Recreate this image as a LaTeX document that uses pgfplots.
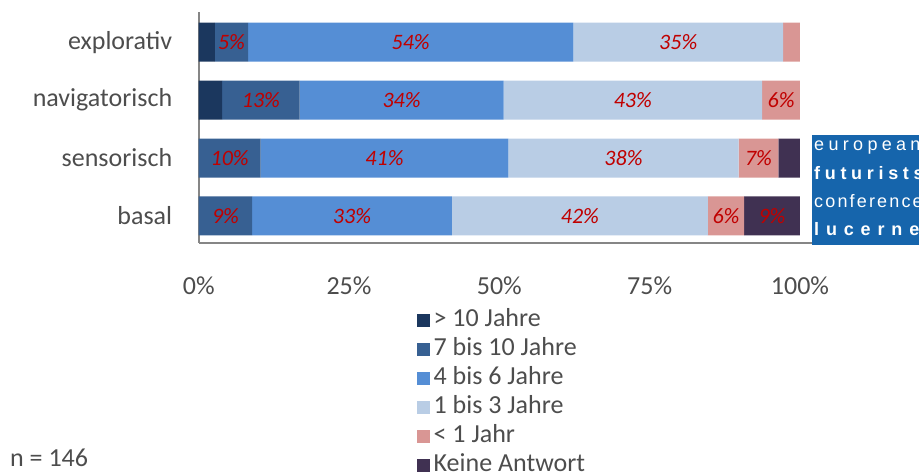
\documentclass[border=0pt]{standalone}
\usepackage{fontspec}
\setmainfont{Carlito}
\newfontfamily\logofont{Liberation Sans}
\usepackage{pgfplots}
\pgfplotsset{compat=1.18}

\definecolor{c1}{RGB}{27,55,94}
\definecolor{c2}{RGB}{55,96,146}
\definecolor{c3}{RGB}{85,142,213}
\definecolor{c4}{RGB}{185,205,229}
\definecolor{c5}{RGB}{217,150,148}
\definecolor{c6}{RGB}{64,49,82}
\definecolor{lblred}{RGB}{192,0,0}
\definecolor{txtgray}{RGB}{77,77,77}
\definecolor{axisgray}{RGB}{134,134,134}
\definecolor{logoblue}{RGB}{22,101,172}

\tikzset{lbl/.style={font=\fontsize{22bp}{26bp}\selectfont\itshape, text=lblred, inner sep=0pt}}
\newcommand\logo[1]{\logofont\fontsize{18bp}{20bp}\selectfont#1}

\begin{document}
\begin{tikzpicture}[x=1bp,y=1bp]
\useasboundingbox (0,0) rectangle (919,475);
\begin{axis}[
  at={(198.7bp,232bp)}, anchor=south west,
  scale only axis, width=613.3bp, height=231bp,
  xbar stacked, bar width=39bp,
  xmin=0, xmax=102, ymin=-0.466, ymax=3.52,
  axis x line*=bottom, axis y line*=left,
  axis line style={draw=axisgray, line width=1.8bp},
  major tick length=0pt,
  xtick={0,25,50,75,100},
  xticklabels={0\%,25\%,50\%,75\%,100\%},
  ytick={0,1,2,3},
  yticklabels={basal,sensorisch,navigatorisch,explorativ},
  tick label style={font=\fontsize{26bp}{30bp}\selectfont, text=txtgray},
  xticklabel style={yshift=-30bp},
  yticklabel style={xshift=-23bp},
  /pgf/number format/assume math mode=true,
  legend style={at={(0.351,-0.264)}, anchor=north west, draw=none, fill=none,
    font=\fontsize{26bp}{30bp}\selectfont, text=txtgray,
    row sep=0pt, nodes={inner ysep=0pt, inner xsep=3.5bp, text height=20bp, text depth=9bp}},
  legend cell align=left,
  legend image code/.code={\fill[#1] (0bp,-6.5bp) rectangle (13bp,6.5bp);},
]
\addplot[fill=c1, draw=none] coordinates {(2.7,3) (3.9,2) (0,1) (0,0)};
\addlegendentry{> 10 Jahre}
\addplot[fill=c2, draw=none] coordinates {(5.5,3) (12.9,2) (10.3,1) (8.9,0)};
\addlegendentry{7 bis 10 Jahre}
\addplot[fill=c3, draw=none] coordinates {(54.1,3) (33.9,2) (41.2,1) (33.2,0)};
\addlegendentry{4 bis 6 Jahre}
\addplot[fill=c4, draw=none] coordinates {(34.9,3) (43.0,2) (38.3,1) (42.6,0)};
\addlegendentry{1 bis 3 Jahre}
\addplot[fill=c5, draw=none] coordinates {(2.8,3) (6.3,2) (6.6,1) (6.0,0)};
\addlegendentry{< 1 Jahr}
\addplot[fill=c6, draw=none] coordinates {(0,3) (0,2) (3.6,1) (9.3,0)};
\addlegendentry{Keine Antwort}
\end{axis}

% segment labels (centres of the segments, 0% at x=198.7, 1% = 6.013bp)
\node[lbl] at (231.5,432.9) {5\%};
\node[lbl] at (410.7,432.9) {54\%};
\node[lbl] at (678.2,432.9) {35\%};
\node[lbl] at (260.9,375.0) {13\%};
\node[lbl] at (401.6,375.0) {34\%};
\node[lbl] at (632.8,375.0) {43\%};
\node[lbl] at (781.1,375.0) {6\%};
\node[lbl] at (229.7,317.0) {10\%};
\node[lbl] at (384.5,317.0) {41\%};
\node[lbl] at (623.5,317.0) {38\%};
\node[lbl] at (758.5,317.0) {7\%};
\node[lbl] at (225.5,259.0) {9\%};
\node[lbl] at (352.0,259.0) {33\%};
\node[lbl] at (579.9,259.0) {42\%};
\node[lbl] at (726.0,259.0) {6\%};
\node[lbl] at (772.0,259.0) {9\%};

% logo
\fill[logoblue] (812,230) rectangle (930,340);
\node[anchor=base west, inner sep=0pt, text=white] at (814,324) {\logo{\addfontfeature{LetterSpace=24}european}};
\node[anchor=base west, inner sep=0pt, text=white] at (814,295) {\logo{\bfseries\addfontfeature{LetterSpace=26}futurists}};
\node[anchor=base west, inner sep=0pt, text=white] at (814,267) {\logo{\addfontfeature{LetterSpace=12}conference}};
\node[anchor=base west, inner sep=0pt, text=white] at (814,239) {\logo{\bfseries\addfontfeature{LetterSpace=38}lucerne}};

\node[anchor=base west, inner sep=0pt, text=txtgray, font=\fontsize{26bp}{30bp}\selectfont] at (10,8) {n = 146};
\end{tikzpicture}
\end{document}
